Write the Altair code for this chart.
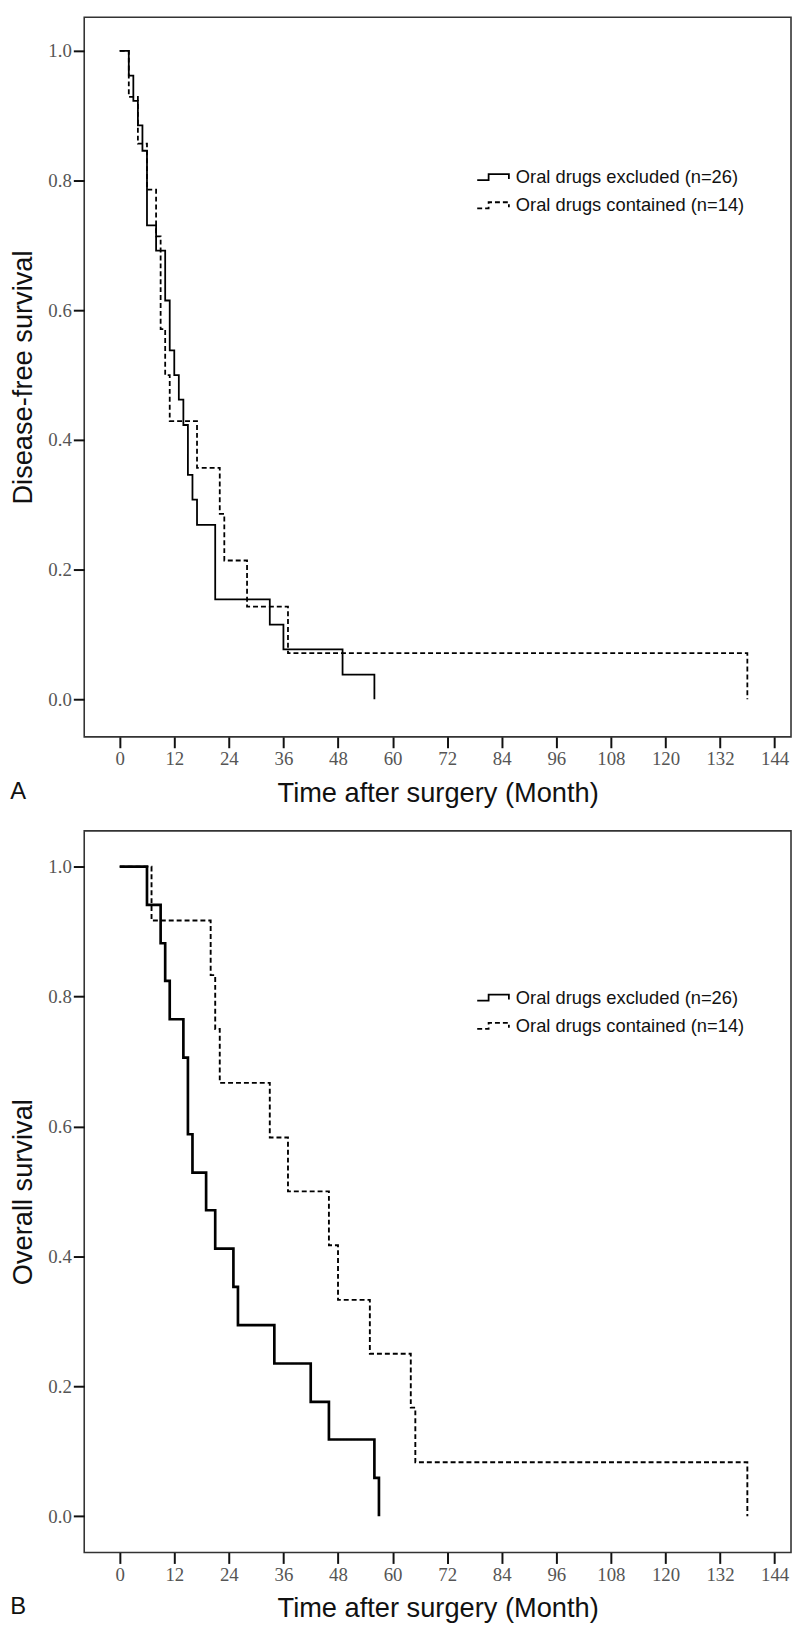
import altair as alt
import pandas as pd

SERIES = ["Oral drugs excluded (n=26)", "Oral drugs contained (n=14)"]
X_TICKS = [0, 12, 24, 36, 48, 60, 72, 84, 96, 108, 120, 132, 144]
Y_TICKS = [0.0, 0.2, 0.4, 0.6, 0.8, 1.0]

# Panel A: disease-free survival (Kaplan-Meier steps)
dfs_excl_t = [0, 2, 3, 4, 5, 6, 8, 10, 11, 12, 13, 14, 15, 16, 17, 21, 33, 36, 49, 56]
dfs_excl_s = [1.0, 0.962, 0.923, 0.885, 0.846, 0.731, 0.692, 0.615, 0.538, 0.5,
              0.462, 0.423, 0.346, 0.308, 0.269, 0.154, 0.115, 0.077, 0.038, 0.0]
dfs_cont_t = [0, 2, 4, 6, 8, 9, 10, 11, 17, 22, 23, 28, 37, 138]
dfs_cont_s = [1.0, 0.929, 0.857, 0.786, 0.714, 0.571, 0.5, 0.429, 0.357, 0.286,
              0.214, 0.143, 0.071, 0.0]

# Panel B: overall survival
os_excl_t = [0, 6, 9, 10, 11, 14, 15, 16, 19, 21, 25, 26, 34, 42, 46, 56, 57]
os_excl_s = [1.0, 0.941, 0.882, 0.824, 0.765, 0.706, 0.588, 0.529, 0.471, 0.412,
             0.353, 0.294, 0.235, 0.176, 0.118, 0.059, 0.0]
os_cont_t = [0, 7, 20, 21, 22, 33, 37, 46, 48, 55, 64, 65, 138]
os_cont_s = [1.0, 0.917, 0.833, 0.75, 0.667, 0.583, 0.5, 0.417, 0.333, 0.25,
             0.167, 0.083, 0.0]

STEP_PATH = "M-1,0.19H-0.28V-0.19H1V0.12"


def table(times, surv, name):
    return pd.DataFrame({"t": times, "s": surv, "series": name})


def panel(excl_t, excl_s, cont_t, cont_s, ytitle, letter, height, ydom,
          solid_w, dash_w, legend_y):
    df = pd.concat([table(excl_t, excl_s, SERIES[0]),
                    table(cont_t, cont_s, SERIES[1])], ignore_index=True)
    base = alt.Chart(df)
    x = alt.X("t:Q",
              scale=alt.Scale(domain=[-7.8, 147.6], nice=False, zero=False),
              axis=alt.Axis(values=X_TICKS, title="Time after surgery (Month)"))
    y = alt.Y("s:Q",
              scale=alt.Scale(domain=ydom, nice=False, zero=False),
              axis=alt.Axis(values=Y_TICKS, format=".1f", title=ytitle))
    dash = alt.StrokeDash(
        "series:N",
        scale=alt.Scale(domain=SERIES, range=[[1, 0], [5, 3]]),
        legend=alt.Legend(
            title=None, orient="none", legendX=396, legendY=legend_y,
            symbolType=STEP_PATH, symbolSize=1024, symbolStrokeColor="black",
            symbolFillColor="transparent", symbolStrokeWidth=1.8,
            labelFont="Liberation Sans", labelFontSize=18.5, labelColor="#111",
            labelOffset=6, rowPadding=1.5, padding=0, labelLimit=400),
    )
    solid = base.transform_filter(alt.datum.series == SERIES[0]).mark_line(
        interpolate="step-after", color="black", strokeWidth=solid_w
    ).encode(x=x, y=y, strokeDash=dash)
    dashed = base.transform_filter(alt.datum.series == SERIES[1]).mark_line(
        interpolate="step-after", color="black", strokeWidth=dash_w
    ).encode(x=x, y=y, strokeDash=dash)
    return alt.layer(dashed, solid).properties(
        width=714, height=height,
        title=alt.TitleParams(letter, orient="bottom", anchor="start",
                              frame="bounds", offset=0, dx=1, dy=-27,
                              font="Liberation Sans", fontSize=24,
                              fontWeight="normal", color="#111"),
    )


top = panel(dfs_excl_t, dfs_excl_s, dfs_cont_t, dfs_cont_s,
            "Disease-free survival", "A", 727, [-0.058, 1.052], 1.8, 1.8, 144.5)
bottom = panel(os_excl_t, os_excl_s, os_cont_t, os_cont_s,
               "Overall survival", "B", 729, [-0.056, 1.055], 2.7, 1.9, 151.5)

chart = alt.vconcat(top, bottom, spacing=22).resolve_scale(
    strokeDash="independent"
).properties(padding=0).configure_view(
    stroke="#333", strokeWidth=1.6
).configure_axis(
    domain=False, grid=False, ticks=True, tickSize=11, tickWidth=2,
    tickColor="#111", labelFont="Liberation Serif", labelFontSize=19,
    labelColor="#555", titleFont="Liberation Sans", titleFontSize=27.5,
    titleFontWeight="normal", titleColor="#111"
).configure_axisX(
    labelPadding=2, titlePadding=11
).configure_axisY(
    labelPadding=2, titlePadding=11
)

chart.save("out.html", embed_options={"renderer": "svg", "actions": False})
